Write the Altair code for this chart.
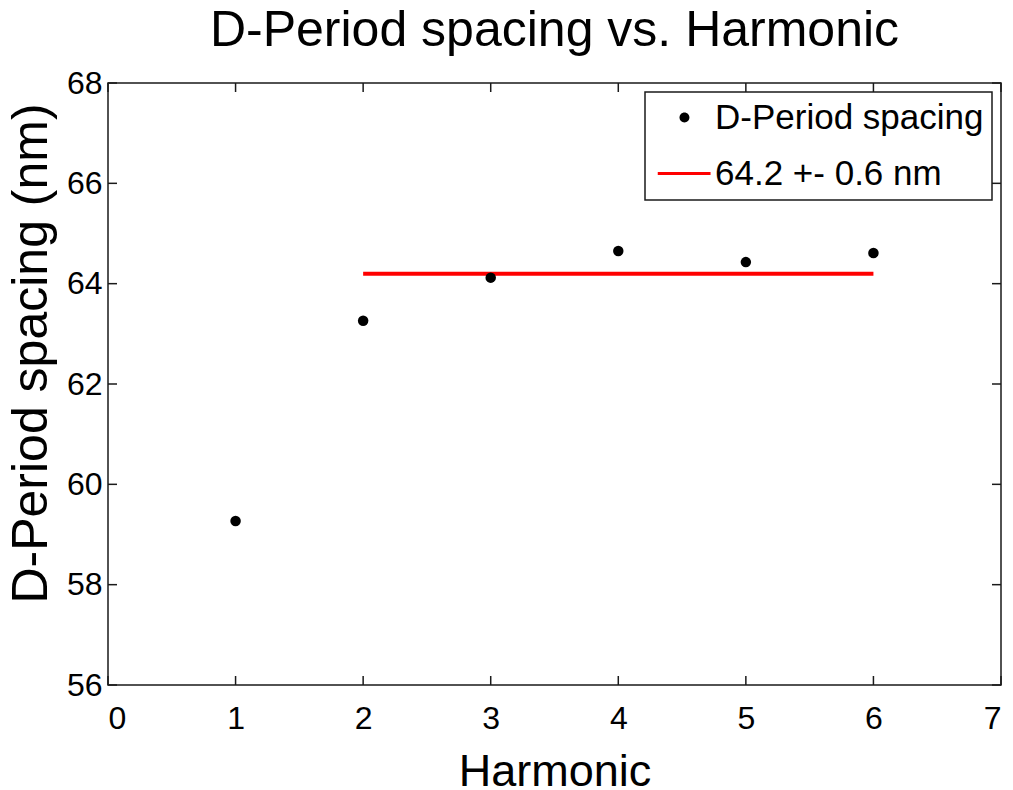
import altair as alt
import pandas as pd

# Measured D-period spacing for each harmonic
harmonic = [1, 2, 3, 4, 5, 6]
spacing_nm = [59.27, 63.26, 64.12, 64.65, 64.43, 64.61]

# Mean spacing over harmonics 2-6
fit_start = 2
fit_end = 6
fit_value = 64.2

point_label = "D-Period spacing"
fit_label = "64.2 +- 0.6 nm"

x_ticks = [0, 1, 2, 3, 4, 5, 6, 7]
y_ticks = [56, 58, 60, 62, 64, 66, 68]

W, H = 893, 602
TICK_LEN = 9
FONT = "Liberation Sans"
INK = "#1a1a1a"

points = pd.DataFrame({"harmonic": harmonic, "spacing": spacing_nm})
fit = pd.DataFrame({"x": [fit_start], "x2": [fit_end], "y": [fit_value]})
legend_rows = pd.DataFrame({"series": [point_label, fit_label]})
xt = pd.DataFrame({"t": x_ticks})
yt = pd.DataFrame({"t": y_ticks})

x_scale = alt.Scale(domain=[x_ticks[0], x_ticks[-1]], nice=False, zero=False)
y_scale = alt.Scale(domain=[y_ticks[0], y_ticks[-1]], nice=False, zero=False)

x_axis = alt.Axis(
    values=x_ticks, title="Harmonic", grid=False, domain=False, ticks=False,
    tickSize=0, labelFont=FONT, labelFontSize=32, labelColor="black",
    labelPadding=18, titleFont=FONT, titleFontSize=45, titleFontWeight="normal",
    titleColor="black", titlePadding=15, format="d",
)
y_axis = alt.Axis(
    values=y_ticks, title="D-Period spacing (nm)", grid=False, domain=False,
    ticks=False, tickSize=0, labelFont=FONT, labelFontSize=32,
    labelColor="black", labelPadding=6, titleFont=FONT, titleFontSize=50,
    titleFontWeight="normal", titleColor="black", titleAlign="center",
    titleBaseline="bottom", titleAngle=270, titleX=-52, titleY=270, format="d",
)


def X(field):
    return alt.X(field, type="quantitative", scale=x_scale, axis=x_axis)


def Y(field):
    return alt.Y(field, type="quantitative", scale=y_scale, axis=y_axis)


# Legend glyphs: a dot and a short bar, as symbol paths
dot_path = "M 0.6,0 A 0.33,0.33 0 1,0 1.26,0 A 0.33,0.33 0 1,0 0.6,0 Z"
bar_path = "M -0.85,-0.1 L 2.67,-0.1 L 2.67,0.1 L -0.85,0.1 Z"

legend = alt.Legend(
    title=None, orient="none", legendX=537, legendY=9, symbolSize=900,
    symbolStrokeWidth=0, symbolOpacity=1, labelFont=FONT, labelFontSize=35,
    labelColor="black", labelOffset=27, rowPadding=20, padding=8,
    strokeColor=INK, fillColor="white", labelLimit=0,
)

series_domain = [point_label, fit_label]

dots = alt.Chart(points).mark_circle(size=110, opacity=1, color="black").encode(
    x=X("harmonic"), y=Y("spacing")
)

fit_line = alt.Chart(fit).mark_rule(color="#ff0000", strokeWidth=4).encode(
    x=X("x"), x2="x2", y=Y("y")
)

# Carries the legend only; its own marks are transparent
legend_layer = alt.Chart(legend_rows).mark_point(filled=True, opacity=0).encode(
    x=alt.value(W / 2),
    y=alt.value(H / 2),
    color=alt.Color("series:N", scale=alt.Scale(domain=series_domain, range=["black", "#ff0000"]), legend=legend),
    shape=alt.Shape("series:N", scale=alt.Scale(domain=series_domain, range=[dot_path, bar_path]), legend=legend),
)

tick_style = dict(color=INK, strokeWidth=1.5)
x_bottom = alt.Chart(xt).mark_rule(**tick_style).encode(
    x=X("t"), y=alt.value(H), y2=alt.value(H - TICK_LEN)
)
x_top = alt.Chart(xt).mark_rule(**tick_style).encode(
    x=X("t"), y=alt.value(0), y2=alt.value(TICK_LEN)
)
y_left = alt.Chart(yt).mark_rule(**tick_style).encode(
    y=Y("t"), x=alt.value(0), x2=alt.value(TICK_LEN)
)
y_right = alt.Chart(yt).mark_rule(**tick_style).encode(
    y=Y("t"), x=alt.value(W), x2=alt.value(W - TICK_LEN)
)

chart = (
    alt.layer(x_bottom, x_top, y_left, y_right, fit_line, dots, legend_layer)
    .properties(
        width=W,
        height=H,
        autosize=alt.AutoSizeParams(type="none"),
        padding={"left": 108, "top": 83, "right": 12, "bottom": 105},
        title=alt.TitleParams(
            "D-Period spacing vs. Harmonic", font=FONT, fontSize=50,
            fontWeight="normal", color="black", anchor="middle",
            baseline="alphabetic", offset=18, dy=47,
        ),
        background="white",
    )
    .configure_view(stroke=INK, strokeWidth=1.5)
    .configure_legend(strokeWidth=1.5)
)

chart.save("out.html", embed_options={"renderer": "svg", "actions": False})
